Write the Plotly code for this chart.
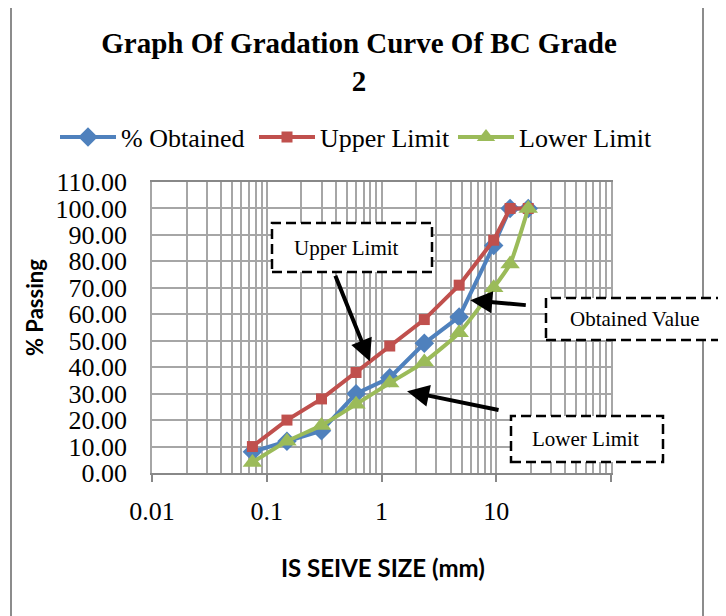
import math
import plotly.graph_objects as go

# ---------------- data ----------------
sieve_mm = [0.075, 0.15, 0.3, 0.6, 1.18, 2.36, 4.75, 9.5, 13.2, 19]
pct_obtained = [8, 12, 16, 30, 36, 49, 59, 86, 100, 100]
upper_limit = [10, 20, 28, 38, 48, 58, 71, 88, 100, 100]
lower_limit = [4, 12, 18, 26, 34, 42, 53, 70, 79, 100]

x_tickvals = [0.01, 0.1, 1, 10, 100]
x_ticktext = ["0.01", "0.1", "1", "10", ""]

series_names = ["% Obtained", "Upper Limit", "Lower Limit"]
series_colors = ["#4F81BD", "#C0504D", "#9BBB59"]

# ---------------- layout geometry ----------------
W, H = 726, 616
OFF = 8  # page body margin
L, T = 152 - OFF, 182 - OFF
PW, PH = 459, 291
R, B = W - L - PW, H - T - PH


def px(xp):  # reference page x -> paper
    return (xp - OFF - L) / PW


def py(yp):  # reference page y -> paper
    return (T + PH - (yp - OFF)) / PH


SERIF = "Liberation Serif, Times New Roman, serif"
SANS = "Lato, Open Sans, sans-serif"
GRID = "#a6a6a6"

fig = go.Figure()
fig.add_trace(go.Scatter(
    x=sieve_mm, y=pct_obtained, name=series_names[0], mode="lines+markers",
    line=dict(color=series_colors[0], width=4),
    marker=dict(symbol="diamond", size=15, color=series_colors[0])))
fig.add_trace(go.Scatter(
    x=sieve_mm, y=upper_limit, name=series_names[1], mode="lines+markers",
    line=dict(color=series_colors[1], width=4),
    marker=dict(symbol="square", size=11, color=series_colors[1])))
fig.add_trace(go.Scatter(
    x=sieve_mm, y=lower_limit, name=series_names[2], mode="lines+markers",
    line=dict(color=series_colors[2], width=4, shape="spline", smoothing=0.5),
    marker=dict(symbol="triangle-up", size=17, color=series_colors[2])))

fig.update_layout(
    width=W, height=H,
    margin=dict(l=L, r=R, t=T, b=B, autoexpand=False),
    paper_bgcolor="white", plot_bgcolor="white",
    title=dict(text="<b>Graph Of Gradation Curve Of BC Grade<br>2</b>",
               x=(359 - OFF) / W, xanchor="center", y=1 - 45 / H, yanchor="middle",
               font=dict(family=SERIF, size=29, color="black")),
    legend=dict(orientation="h", x=px(55), xanchor="left",
                y=py(137), yanchor="middle",
                font=dict(family=SERIF, size=26, color="black"),
                itemwidth=56, entrywidth=128, entrywidthmode="pixels",
                tracegroupgap=0, traceorder="normal", bgcolor="rgba(0,0,0,0)"),
    showlegend=True,
)

fig.update_xaxes(
    type="log", range=[-2, 2], automargin=False,
    tickvals=x_tickvals, ticktext=x_ticktext,
    ticks="outside", ticklen=7, tickwidth=1.5, tickcolor="#888888",
    tickfont=dict(family=SERIF, size=26, color="black"),
    ticklabelstandoff=7,
    showgrid=True, gridcolor=GRID, gridwidth=1.5,
    minor=dict(dtick="D1", showgrid=True, gridcolor=GRID, gridwidth=1.5),
    showline=True, linecolor="#888888", linewidth=1.5, mirror=True,
    zeroline=False,
)
fig.update_yaxes(
    range=[0, 110], dtick=10, tickformat=".2f", automargin=False,
    tickfont=dict(family=SERIF, size=26, color="black"),
    ticklabelstandoff=18,
    showgrid=True, gridcolor=GRID, gridwidth=1.5,
    showline=True, linecolor=GRID, linewidth=1.5, mirror=True,
    zeroline=False,
)

# outer chart border
fig.add_shape(type="rect", xref="paper", yref="paper",
              x0=px(11), x1=px(703), y0=py(640), y1=py(5),
              line=dict(color="#8c8c8c", width=2), layer="below")

# axis titles
fig.add_annotation(text="<b>IS SEIVE SIZE (mm)</b>", xref="paper", yref="paper",
                   x=px(383), y=py(567), xanchor="center", yanchor="middle",
                   showarrow=False, font=dict(family=SANS, size=24, color="black"))
fig.add_annotation(text="<b>% Passing</b>", xref="paper", yref="paper",
                   x=px(34), y=py(308), xanchor="center", yanchor="middle",
                   showarrow=False, textangle=-90,
                   font=dict(family=SANS, size=22, color="black"))

# callout boxes
boxes = [
    ("Upper Limit", 272, 432, 223, 272, 346),
    ("Obtained Value", 546, 780, 298, 340, 635),
    ("Lower Limit", 511, 663, 416, 462, 585),
]
for text, x0, x1, y0, y1, tx in boxes:
    fig.add_shape(type="rect", xref="paper", yref="paper",
                  x0=px(x0), x1=px(x1), y0=py(y1), y1=py(y0),
                  fillcolor="white", line=dict(color="black", width=2.5, dash="10px,5px"),
                  layer="above")
    fig.add_annotation(text=text, xref="paper", yref="paper",
                       x=px(tx), y=py((y0 + y1) / 2), xanchor="center", yanchor="middle",
                       showarrow=False, font=dict(family=SERIF, size=21, color="black"))

# arrows (head in data coords, tail offset in pixels)
arrows = [
    (0.79, 42.2, -35, -87),
    (5.94, 65.3, 57, 5),
    (1.67, 30.9, 93, 19),
]
for hx, hy, ax, ay in arrows:
    fig.add_annotation(x=math.log10(hx), y=hy, xref="x", yref="y",
                       ax=ax, ay=ay, axref="pixel", ayref="pixel",
                       text="", showarrow=True, arrowhead=2, arrowsize=1.1,
                       arrowwidth=4, arrowcolor="black")

fig.write_html("out.html")
